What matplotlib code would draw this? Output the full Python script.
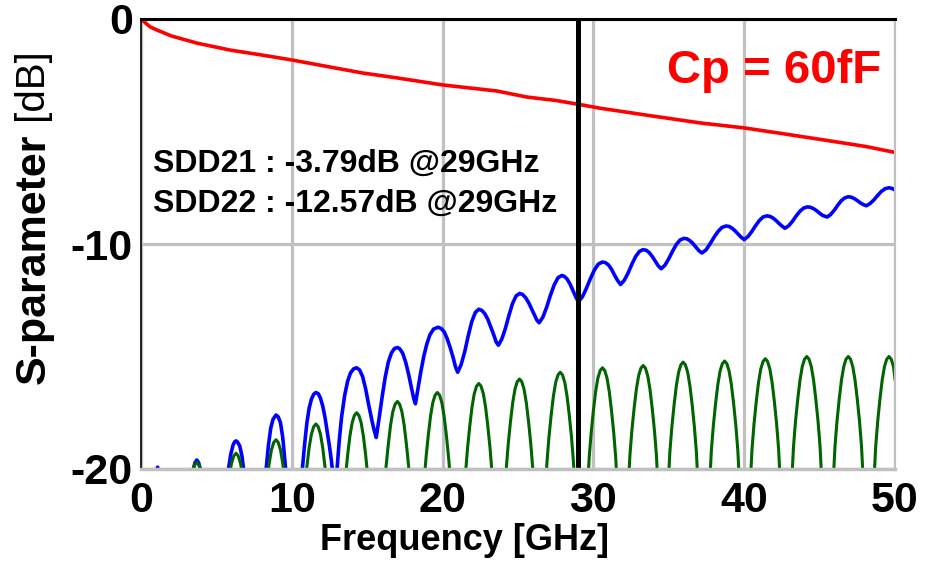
import matplotlib
matplotlib.use("Agg")
import matplotlib.pyplot as plt

plt.rcParams['font.family'] = ['Liberation Sans', 'DejaVu Sans']
plt.rcParams['axes.unicode_minus'] = False

# SDD21 (red)
red_f = [0.0, 0.6, 1.06, 2.0, 3.7, 5.9, 8.0, 10.0, 12.5, 14.7, 17.0, 20.0, 23.6,
         25.6, 27.5, 29.0, 30.4, 33.8, 37.1, 40.0, 42.6, 45.9, 48.1, 50.0]
red_db = [0.0, -0.35, -0.49, -0.75, -1.07, -1.38, -1.6, -1.82, -2.13, -2.4, -2.62,
          -2.93, -3.2, -3.47, -3.62, -3.79, -3.96, -4.3, -4.62, -4.84, -5.1, -5.44,
          -5.67, -5.93]

# SDD22 (blue)
blue_f = [0.8, 0.95, 1.1, 1.25, 1.4,
          3.25, 3.45, 3.58, 3.7, 3.82, 3.95, 4.15,
          5.5, 5.65, 5.8, 5.95, 6.1, 6.2, 6.3, 6.4, 6.55, 6.7, 6.8, 6.95, 7.1,
          7.95, 8.1, 8.3, 8.45, 8.6, 8.75, 8.95, 9.1, 9.25, 9.4, 9.55, 9.65, 9.8,
          10.45, 10.6, 10.7, 10.85, 11.0, 11.15, 11.3, 11.45, 11.6, 11.75, 11.9,
          12.05, 12.2, 12.35, 12.5, 12.62, 12.72, 12.82, 12.85,
          12.92, 13.0, 13.15, 13.3, 13.5, 13.7, 13.9, 14.1, 14.3, 14.5, 14.7, 14.9,
          15.1, 15.3, 15.45, 15.6,
          15.8, 16.0, 16.2, 16.4, 16.6, 16.8, 17.0,
          17.15, 17.35, 17.55, 17.75, 17.95, 18.1, 18.2,
          18.35, 18.55, 18.75, 18.95, 19.15, 19.4, 19.7,
          19.9, 20.1, 20.3, 20.5, 20.7, 20.85, 21.0,
          21.23, 21.47, 21.7, 21.93, 22.17, 22.4,
          22.6, 22.8, 23.0, 23.2, 23.4, 23.55, 23.7,
          23.93, 24.17, 24.4, 24.63, 24.87, 25.1,
          25.3, 25.5, 25.7, 25.9, 26.1, 26.25, 26.4,
          26.65, 26.9, 27.15, 27.4, 27.65, 27.9,
          28.05, 28.25, 28.45, 28.65, 28.85, 29.0,
          29.27, 29.53, 29.8, 30.07, 30.33, 30.6,
          30.8, 31.0, 31.2, 31.4, 31.6, 31.8,
          32.05, 32.3, 32.55, 32.8, 33.05, 33.3,
          33.5, 33.7, 33.9, 34.1, 34.3, 34.5,
          34.75, 35.0, 35.25, 35.5, 35.75, 36.0,
          36.2, 36.4, 36.6, 36.8, 37.0, 37.2,
          37.47, 37.73, 38.0, 38.27, 38.53, 38.8,
          39.0, 39.2, 39.4, 39.6, 39.8, 40.0,
          40.25, 40.5, 40.75, 41.0, 41.25, 41.5,
          41.7, 41.9, 42.1, 42.3, 42.5, 42.7,
          42.95, 43.2, 43.45, 43.7, 43.95, 44.2,
          44.4, 44.6, 44.8, 45.0, 45.2, 45.5,
          45.73, 45.97, 46.2, 46.43, 46.67, 46.9,
          47.1, 47.3, 47.5, 47.7, 47.9, 48.1,
          48.35, 48.6, 48.85, 49.1, 49.35, 49.6, 49.8, 50.0]
blue_db = [-21.5, -20.3, -19.92, -20.3, -21.5,
           -21.5, -20.05, -19.72, -19.6, -19.72, -20.05, -21.5,
           -22.2, -20.9, -20.0, -19.35, -18.95, -18.8, -18.75, -18.8, -18.98, -19.45, -20.0, -20.9, -22.2,
           -22.5, -21.2, -20.0, -18.95, -18.2, -17.8, -17.6, -17.68, -17.95, -18.6, -19.7, -20.5, -22.2,
           -22.5, -21.0, -20.0, -18.9, -17.95, -17.3, -16.9, -16.68, -16.6, -16.65, -16.85,
           -17.2, -17.7, -18.35, -19.0, -19.6, -20.2, -21.5, -24.0,
           -22.0, -20.0, -18.7, -17.7, -16.75, -16.1, -15.72, -15.55, -15.5, -15.6, -15.9, -16.45,
           -17.15, -17.8, -18.25, -18.6,
           -17.7, -16.75, -15.9, -15.25, -14.85, -14.65, -14.6,
           -14.65, -14.85, -15.25, -15.8, -16.45, -16.9, -17.1,
           -16.5, -15.7, -15.0, -14.45, -14.05, -13.78, -13.7,
           -13.75, -13.9, -14.2, -14.6, -15.05, -15.45, -15.7,
           -15.36, -14.78, -14.08, -13.46, -13.04, -12.9,
           -12.95, -13.1, -13.35, -13.7, -14.05, -14.35, -14.5,
           -14.22, -13.74, -13.17, -12.66, -12.31, -12.2,
           -12.24, -12.38, -12.6, -12.88, -13.15, -13.38, -13.5,
           -13.25, -12.81, -12.28, -11.82, -11.5, -11.4,
           -11.43, -11.55, -11.78, -12.08, -12.38, -12.56,
           -12.35, -11.98, -11.54, -11.15, -10.89, -10.8,
           -10.83, -10.93, -11.12, -11.38, -11.62, -11.8,
           -11.61, -11.29, -10.9, -10.56, -10.33, -10.25,
           -10.28, -10.38, -10.55, -10.76, -10.97, -11.1,
           -10.94, -10.65, -10.32, -10.02, -9.82, -9.75,
           -9.77, -9.85, -9.98, -10.14, -10.3, -10.4,
           -10.26, -10.0, -9.7, -9.44, -9.26, -9.2,
           -9.22, -9.3, -9.42, -9.56, -9.7, -9.8,
           -9.67, -9.45, -9.19, -8.96, -8.8, -8.75,
           -8.77, -8.84, -8.95, -9.08, -9.2, -9.3,
           -9.19, -8.99, -8.75, -8.54, -8.4, -8.35,
           -8.37, -8.43, -8.52, -8.63, -8.73, -8.8,
           -8.69, -8.5, -8.28, -8.08, -7.95, -7.9,
           -7.92, -7.98, -8.07, -8.17, -8.25, -8.3,
           -8.2, -8.04, -7.84, -7.66, -7.54, -7.5, -7.53, -7.6]

# third trace (green), one row per arch
green_f = [2.55, 2.70, 2.82, 2.95, 3.10, 3.25, 3.40, 3.55, 3.70, 3.85, 4.00, 4.15, 4.30, 4.45, 4.58, 4.70, 4.85,
           5.15, 5.30, 5.42, 5.55, 5.70, 5.85, 6.00, 6.15, 6.30, 6.45, 6.60, 6.75, 6.90, 7.05, 7.18, 7.30, 7.45,
           7.80, 7.95, 8.07, 8.20, 8.35, 8.50, 8.65, 8.80, 8.95, 9.10, 9.25, 9.40, 9.55, 9.70, 9.83, 9.95, 10.10,
           10.45, 10.60, 10.72, 10.85, 11.00, 11.15, 11.30, 11.45, 11.60, 11.75, 11.90, 12.05, 12.20, 12.35, 12.48, 12.60, 12.75,
           13.15, 13.30, 13.42, 13.55, 13.70, 13.85, 14.00, 14.15, 14.30, 14.45, 14.60, 14.75, 14.90, 15.05, 15.18, 15.30, 15.45,
           15.85, 16.00, 16.12, 16.25, 16.40, 16.55, 16.70, 16.85, 17.00, 17.15, 17.30, 17.45, 17.60, 17.75, 17.88, 18.00, 18.15,
           18.50, 18.65, 18.77, 18.90, 19.05, 19.20, 19.35, 19.50, 19.65, 19.80, 19.95, 20.10, 20.25, 20.40, 20.53, 20.65, 20.80,
           21.25, 21.40, 21.52, 21.65, 21.80, 21.95, 22.10, 22.25, 22.40, 22.55, 22.70, 22.85, 23.00, 23.15, 23.28, 23.40, 23.55,
           23.95, 24.10, 24.22, 24.35, 24.50, 24.65, 24.80, 24.95, 25.10, 25.25, 25.40, 25.55, 25.70, 25.85, 25.98, 26.10, 26.25,
           26.65, 26.80, 26.92, 27.05, 27.20, 27.35, 27.50, 27.65, 27.80, 27.95, 28.10, 28.25, 28.40, 28.55, 28.68, 28.80, 28.95,
           29.45, 29.60, 29.72, 29.85, 30.00, 30.15, 30.30, 30.45, 30.60, 30.75, 30.90, 31.05, 31.20, 31.35, 31.48, 31.60, 31.75,
           32.15, 32.30, 32.42, 32.55, 32.70, 32.85, 33.00, 33.15, 33.30, 33.45, 33.60, 33.75, 33.90, 34.05, 34.18, 34.30, 34.45,
           34.80, 34.95, 35.07, 35.20, 35.35, 35.50, 35.65, 35.80, 35.95, 36.10, 36.25, 36.40, 36.55, 36.70, 36.83, 36.95, 37.10,
           37.55, 37.70, 37.82, 37.95, 38.10, 38.25, 38.40, 38.55, 38.70, 38.85, 39.00, 39.15, 39.30, 39.45, 39.58, 39.70, 39.85,
           40.25, 40.40, 40.52, 40.65, 40.80, 40.95, 41.10, 41.25, 41.40, 41.55, 41.70, 41.85, 42.00, 42.15, 42.28, 42.40, 42.55,
           43.00, 43.15, 43.27, 43.40, 43.55, 43.70, 43.85, 44.00, 44.15, 44.30, 44.45, 44.60, 44.75, 44.90, 45.03, 45.15, 45.30,
           45.75, 45.90, 46.02, 46.15, 46.30, 46.45, 46.60, 46.75, 46.90, 47.05, 47.20, 47.35, 47.50, 47.65, 47.78, 47.90, 48.05,
           48.45, 48.60, 48.72, 48.85, 49.00, 49.15, 49.30, 49.45, 49.60, 49.75, 49.90, 50.00]
green_db = [-28.7, -25.3, -23.7, -22.6, -21.6, -20.75, -20.15, -19.82, -19.7, -19.82, -20.15, -20.75, -21.6, -22.6, -23.7, -25.3, -28.7,
            -28.3, -24.9, -23.3, -22.2, -21.2, -20.35, -19.75, -19.42, -19.3, -19.42, -19.75, -20.35, -21.2, -22.2, -23.3, -24.9, -28.3,
            -27.7, -24.3, -22.7, -21.6, -20.6, -19.75, -19.15, -18.82, -18.7, -18.82, -19.15, -19.75, -20.6, -21.6, -22.7, -24.3, -27.7,
            -27.0, -23.6, -22.0, -20.9, -19.9, -19.05, -18.45, -18.12, -18.0, -18.12, -18.45, -19.05, -19.9, -20.9, -22.0, -23.6, -27.0,
            -26.5, -23.1, -21.5, -20.4, -19.4, -18.55, -17.95, -17.62, -17.5, -17.62, -17.95, -18.55, -19.4, -20.4, -21.5, -23.1, -26.5,
            -26.0, -22.6, -21.0, -19.9, -18.9, -18.05, -17.45, -17.12, -17.0, -17.12, -17.45, -18.05, -18.9, -19.9, -21.0, -22.6, -26.0,
            -25.6, -22.2, -20.6, -19.5, -18.5, -17.65, -17.05, -16.72, -16.6, -16.72, -17.05, -17.65, -18.5, -19.5, -20.6, -22.2, -25.6,
            -25.2, -21.8, -20.2, -19.1, -18.1, -17.25, -16.65, -16.32, -16.2, -16.32, -16.65, -17.25, -18.1, -19.1, -20.2, -21.8, -25.2,
            -25.0, -21.6, -20.0, -18.9, -17.9, -17.05, -16.45, -16.12, -16.0, -16.12, -16.45, -17.05, -17.9, -18.9, -20.0, -21.6, -25.0,
            -24.7, -21.3, -19.7, -18.6, -17.6, -16.75, -16.15, -15.82, -15.7, -15.82, -16.15, -16.75, -17.6, -18.6, -19.7, -21.3, -24.7,
            -24.5, -21.1, -19.5, -18.4, -17.4, -16.55, -15.95, -15.62, -15.5, -15.62, -15.95, -16.55, -17.4, -18.4, -19.5, -21.1, -24.5,
            -24.4, -21.0, -19.4, -18.3, -17.3, -16.45, -15.85, -15.52, -15.4, -15.52, -15.85, -16.45, -17.3, -18.3, -19.4, -21.0, -24.4,
            -24.25, -20.85, -19.25, -18.15, -17.15, -16.3, -15.7, -15.37, -15.25, -15.37, -15.7, -16.3, -17.15, -18.15, -19.25, -20.85, -24.25,
            -24.2, -20.8, -19.2, -18.1, -17.1, -16.25, -15.65, -15.32, -15.2, -15.32, -15.65, -16.25, -17.1, -18.1, -19.2, -20.8, -24.2,
            -24.1, -20.7, -19.1, -18.0, -17.0, -16.15, -15.55, -15.22, -15.1, -15.22, -15.55, -16.15, -17.0, -18.0, -19.1, -20.7, -24.1,
            -24.0, -20.6, -19.0, -17.9, -16.9, -16.05, -15.45, -15.12, -15.0, -15.12, -15.45, -16.05, -16.9, -17.9, -19.0, -20.6, -24.0,
            -24.0, -20.6, -19.0, -17.9, -16.9, -16.05, -15.45, -15.12, -15.0, -15.12, -15.45, -16.05, -16.9, -17.9, -19.0, -20.6, -24.0,
            -24.0, -20.6, -19.0, -17.9, -16.9, -16.05, -15.45, -15.12, -15.0, -15.12, -15.45, -16.0]

x_ticks = [0, 10, 20, 30, 40, 50]
y_ticks = [-20, -10, 0]
marker_f = 29
notes = ["SDD21 : -3.79dB @29GHz", "SDD22 : -12.57dB @29GHz"]

fig = plt.figure(figsize=(9.33, 5.77), dpi=100)
ax = fig.add_axes([141 / 933, 1 - 469 / 577, 754 / 933, 450 / 577])

ax.plot(red_f, red_db, color='#ff0000', lw=2.6, zorder=3, solid_joinstyle='round')
ax.plot(blue_f, blue_db, color='#0000ff', lw=2.6, zorder=3, solid_joinstyle='round')
ax.plot(green_f, green_db, color='#006400', lw=2.2, zorder=4, solid_joinstyle='round')
ax.axvline(marker_f, color='black', lw=3.6, zorder=5)

ax.set_xlim(0, 50)
ax.set_ylim(-20, 0)
ax.set_xticks(x_ticks)
ax.set_yticks(y_ticks)
ax.grid(True, color='#c0c0c0', lw=2.3, zorder=1)
ax.set_axisbelow(True)
ax.tick_params(length=0, labelsize=31, pad=6)
ax.tick_params(axis='x', pad=9)
for lab in ax.get_xticklabels() + ax.get_yticklabels():
    lab.set_fontweight('bold')

ax.spines['top'].set_color('black')
ax.spines['top'].set_linewidth(2.2)
ax.spines['left'].set_color('black')
ax.spines['left'].set_linewidth(1.2)
ax.spines['bottom'].set_color('#c0c0c0')
ax.spines['bottom'].set_linewidth(2.5)
ax.spines['right'].set_color('#c0c0c0')
ax.spines['right'].set_linewidth(1.5)
for s in ax.spines.values():
    s.set_zorder(6)

ax.text(0.8, -6.78, notes[0], fontsize=23, fontweight='bold', va='baseline', zorder=7)
ax.text(0.8, -8.56, notes[1], fontsize=23, fontweight='bold', va='baseline', zorder=7)
ax.text(34.9, -2.85, "Cp = 60fF", fontsize=34, fontweight='bold', color='#ff0000',
        va='baseline', zorder=7)

fig.text(464 / 933, 1 - 540 / 577, "Frequency [GHz]", fontsize=26,
         fontweight='bold', ha='center', va='center')

t1 = fig.text(45 / 933, 1 - 384 / 577, "S-parameter", fontsize=31, fontweight='bold',
              rotation=90, rotation_mode='anchor', ha='left', va='baseline')
ax.annotate(" [dB]", xy=(45 / 933, 1.0), xycoords=('figure fraction', t1),
            fontsize=29, rotation=90, rotation_mode='anchor', ha='left', va='baseline',
            annotation_clip=False)

fig.savefig("out.png", dpi=100)
